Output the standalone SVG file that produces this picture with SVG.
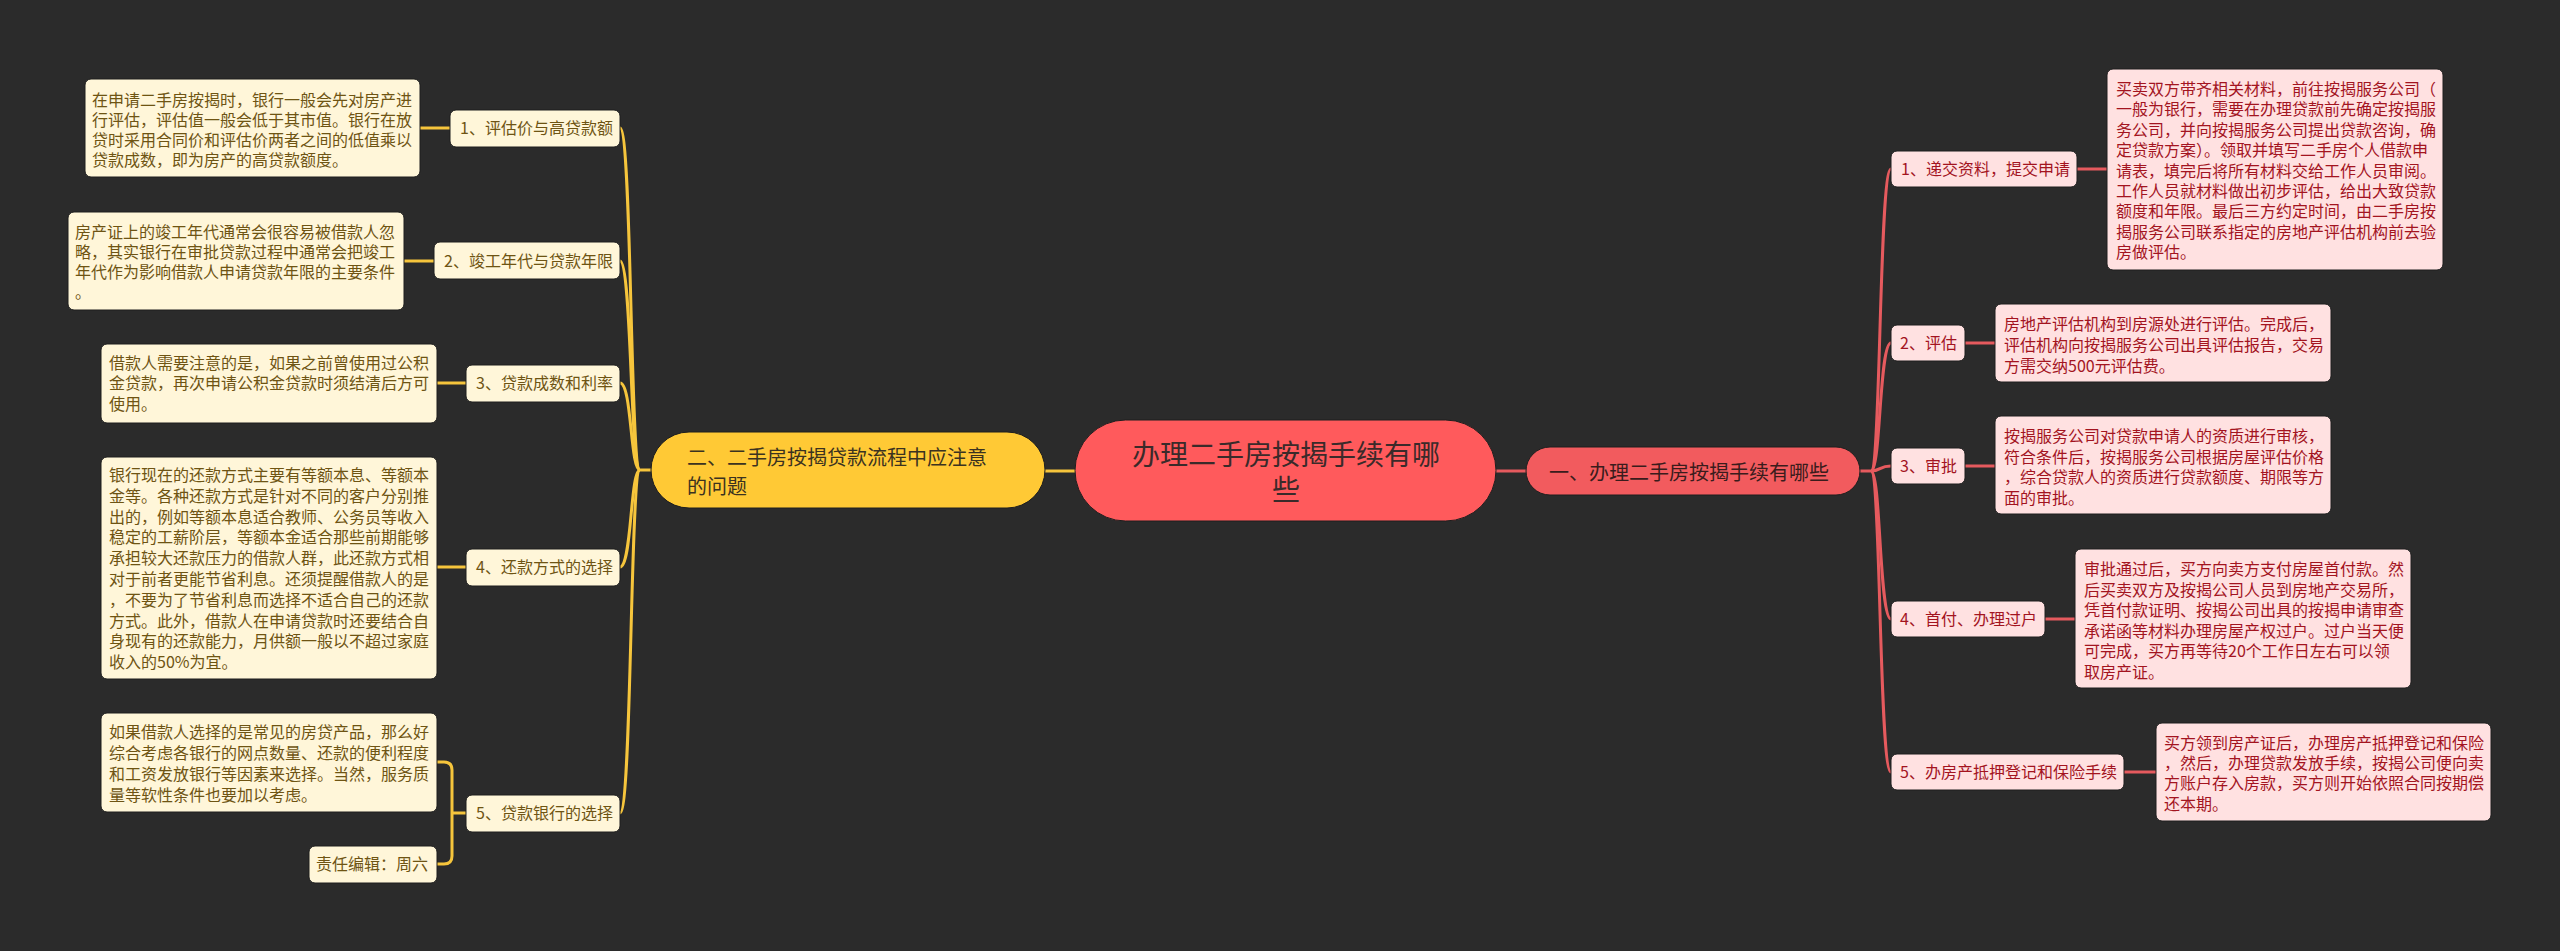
<svg xmlns="http://www.w3.org/2000/svg" width="2560" height="951" viewBox="0 0 2560 951">
<style>
text{font-family:"Noto Sans CJK SC","Noto Sans",sans-serif}
.bg{fill:#2b2b2b}
.ly{fill:#fff6d9;stroke:#1e1e1e;stroke-width:1}
.lt{fill:#6e5413;font-size:16px}
.ry{fill:#ffe1e1;stroke:#1e1e1e;stroke-width:1}
.rt{fill:#a3141f;font-size:16px}
.cy{fill:none;stroke:#f6c53c;stroke-width:3}
.cr{fill:none;stroke:#e65a5e;stroke-width:3}
</style>
<rect class="bg" x="0" y="0" width="2560" height="951"/>

<g id="connectors">
<path class="cy" d="M1075 471H1045"/>
<path class="cr" d="M1496 471H1526"/>
<path class="cy" d="M651 470H640"/>
<path class="cy" d="M640 470C630 470 632 128 620 128"/>
<path class="cy" d="M640 470C630 470 632 261 620 261"/>
<path class="cy" d="M640 470C630 470 632 383 620 383"/>
<path class="cy" d="M640 470C630 470 632 567 620 567"/>
<path class="cy" d="M640 470C630 470 632 813 620 813"/>
<path class="cy" d="M450 128H420"/>
<path class="cy" d="M434 261H404"/>
<path class="cy" d="M466 383H437"/>
<path class="cy" d="M466 567H437"/>
<path class="cy" d="M466 813H452M452 813V770Q452 762 444 762H437M452 813V856Q452 864 444 864H437"/>
<path class="cr" d="M1860 471H1871"/>
<path class="cr" d="M1871 471C1881 471 1879 169 1891 169"/>
<path class="cr" d="M1871 471C1881 471 1879 343 1891 343"/>
<path class="cr" d="M1871 471C1881 471 1879 466 1891 466"/>
<path class="cr" d="M1871 471C1881 471 1879 619 1891 619"/>
<path class="cr" d="M1871 471C1881 471 1879 772 1891 772"/>
<path class="cr" d="M2077 169H2107"/>
<path class="cr" d="M1965 343H1995"/>
<path class="cr" d="M1965 466H1995"/>
<path class="cr" d="M2045 619H2075"/>
<path class="cr" d="M2124 772H2156"/>
</g>

<g id="root">
<rect x="1075" y="420" width="421" height="101" rx="50.5" fill="#ff5a5c" stroke="#1e1e1e" stroke-width="1"/>
<text x="1286" y="465" font-size="28" fill="#3a2a2a" text-anchor="middle">办理二手房按揭手续有哪</text>
<text x="1286" y="500" font-size="28" fill="#3a2a2a" text-anchor="middle">些</text>
</g>

<g id="branch-left">
<rect x="651" y="432" width="394" height="76" rx="38" fill="#ffc935" stroke="#1e1e1e" stroke-width="1"/>
<text x="687" y="465" font-size="20" fill="#3b3220">二、二手房按揭贷款流程中应注意</text>
<text x="687" y="494" font-size="20" fill="#3b3220">的问题</text>
</g>

<g id="branch-right">
<rect x="1526" y="447" width="334" height="48" rx="24" fill="#f25b5e" stroke="#1e1e1e" stroke-width="1"/>
<text x="1549" y="480" font-size="20" fill="#3a1c1c">一、办理二手房按揭手续有哪些</text>
</g>

<g id="l1">
<rect class="ly" x="450" y="110" width="170" height="37" rx="6"/>
<text class="lt" x="460" y="134">1、评估价与高贷款额</text>
</g>
<g id="l1d">
<rect class="ly" x="85" y="79" width="335" height="98" rx="6"/>
<text class="lt" x="92" y="106">在申请二手房按揭时，银行一般会先对房产进</text>
<text class="lt" x="92" y="126">行评估，评估值一般会低于其市值。银行在放</text>
<text class="lt" x="92" y="146">贷时采用合同价和评估价两者之间的低值乘以</text>
<text class="lt" x="92" y="166">贷款成数，即为房产的高贷款额度。</text>
</g>

<g id="l2">
<rect class="ly" x="434" y="242" width="186" height="37" rx="6"/>
<text class="lt" x="444" y="267">2、竣工年代与贷款年限</text>
</g>
<g id="l2d">
<rect class="ly" x="68" y="212" width="336" height="98" rx="6"/>
<text class="lt" x="75" y="238">房产证上的竣工年代通常会很容易被借款人忽</text>
<text class="lt" x="75" y="258">略，其实银行在审批贷款过程中通常会把竣工</text>
<text class="lt" x="75" y="278">年代作为影响借款人申请贷款年限的主要条件</text>
<text class="lt" x="75" y="298">。</text>
</g>

<g id="l3">
<rect class="ly" x="466" y="365" width="154" height="37" rx="6"/>
<text class="lt" x="476" y="389">3、贷款成数和利率</text>
</g>
<g id="l3d">
<rect class="ly" x="101" y="344" width="336" height="79" rx="6"/>
<text class="lt" x="109" y="369">借款人需要注意的是，如果之前曾使用过公积</text>
<text class="lt" x="109" y="389">金贷款，再次申请公积金贷款时须结清后方可</text>
<text class="lt" x="109" y="410">使用。</text>
</g>

<g id="l4">
<rect class="ly" x="466" y="549" width="154" height="37" rx="6"/>
<text class="lt" x="476" y="573">4、还款方式的选择</text>
</g>
<g id="l4d">
<rect class="ly" x="101" y="457" width="336" height="222" rx="6"/>
<text class="lt" x="109" y="481">银行现在的还款方式主要有等额本息、等额本</text>
<text class="lt" x="109" y="502">金等。各种还款方式是针对不同的客户分别推</text>
<text class="lt" x="109" y="523">出的，例如等额本息适合教师、公务员等收入</text>
<text class="lt" x="109" y="543">稳定的工薪阶层，等额本金适合那些前期能够</text>
<text class="lt" x="109" y="564">承担较大还款压力的借款人群，此还款方式相</text>
<text class="lt" x="109" y="585">对于前者更能节省利息。还须提醒借款人的是</text>
<text class="lt" x="109" y="606">，不要为了节省利息而选择不适合自己的还款</text>
<text class="lt" x="109" y="627">方式。此外，借款人在申请贷款时还要结合自</text>
<text class="lt" x="109" y="647">身现有的还款能力，月供额一般以不超过家庭</text>
<text class="lt" x="109" y="668">收入的50%为宜。</text>
</g>

<g id="l5">
<rect class="ly" x="466" y="795" width="154" height="37" rx="6"/>
<text class="lt" x="476" y="819">5、贷款银行的选择</text>
</g>
<g id="l5d">
<rect class="ly" x="101" y="713" width="336" height="99" rx="6"/>
<text class="lt" x="109" y="738">如果借款人选择的是常见的房贷产品，那么好</text>
<text class="lt" x="109" y="759">综合考虑各银行的网点数量、还款的便利程度</text>
<text class="lt" x="109" y="780">和工资发放银行等因素来选择。当然，服务质</text>
<text class="lt" x="109" y="801">量等软性条件也要加以考虑。</text>
</g>
<g id="l5e">
<rect class="ly" x="309" y="846" width="128" height="37" rx="6"/>
<text class="lt" x="316" y="870">责任编辑：周六</text>
</g>

<g id="r1">
<rect class="ry" x="1891" y="151" width="186" height="36" rx="6"/>
<text class="rt" x="1901" y="175">1、递交资料，提交申请</text>
</g>
<g id="r1d">
<rect class="ry" x="2107" y="69" width="336" height="201" rx="6"/>
<text class="rt" x="2116" y="95">买卖双方带齐相关材料，前往按揭服务公司（</text>
<text class="rt" x="2116" y="115.4">一般为银行，需要在办理贷款前先确定按揭服</text>
<text class="rt" x="2116" y="135.8">务公司，并向按揭服务公司提出贷款咨询，确</text>
<text class="rt" x="2116" y="156.2">定贷款方案）。领取并填写二手房个人借款申</text>
<text class="rt" x="2116" y="176.6">请表，填完后将所有材料交给工作人员审阅。</text>
<text class="rt" x="2116" y="197">工作人员就材料做出初步评估，给出大致贷款</text>
<text class="rt" x="2116" y="217.4">额度和年限。最后三方约定时间，由二手房按</text>
<text class="rt" x="2116" y="237.8">揭服务公司联系指定的房地产评估机构前去验</text>
<text class="rt" x="2116" y="258.2">房做评估。</text>
</g>

<g id="r2">
<rect class="ry" x="1891" y="325" width="74" height="36" rx="6"/>
<text class="rt" x="1900" y="349">2、评估</text>
</g>
<g id="r2d">
<rect class="ry" x="1995" y="304" width="336" height="78" rx="6"/>
<text class="rt" x="2004" y="330">房地产评估机构到房源处进行评估。完成后，</text>
<text class="rt" x="2004" y="351">评估机构向按揭服务公司出具评估报告，交易</text>
<text class="rt" x="2004" y="372">方需交纳500元评估费。</text>
</g>

<g id="r3">
<rect class="ry" x="1891" y="448" width="74" height="36" rx="6"/>
<text class="rt" x="1900" y="472">3、审批</text>
</g>
<g id="r3d">
<rect class="ry" x="1995" y="416" width="336" height="98" rx="6"/>
<text class="rt" x="2004" y="442">按揭服务公司对贷款申请人的资质进行审核，</text>
<text class="rt" x="2004" y="463">符合条件后，按揭服务公司根据房屋评估价格</text>
<text class="rt" x="2004" y="483">，综合贷款人的资质进行贷款额度、期限等方</text>
<text class="rt" x="2004" y="504">面的审批。</text>
</g>

<g id="r4">
<rect class="ry" x="1891" y="601" width="154" height="36" rx="6"/>
<text class="rt" x="1900" y="625">4、首付、办理过户</text>
</g>
<g id="r4d">
<rect class="ry" x="2075" y="549" width="336" height="139" rx="6"/>
<text class="rt" x="2084" y="575">审批通过后，买方向卖方支付房屋首付款。然</text>
<text class="rt" x="2084" y="595.6">后买卖双方及按揭公司人员到房地产交易所，</text>
<text class="rt" x="2084" y="616.2">凭首付款证明、按揭公司出具的按揭申请审查</text>
<text class="rt" x="2084" y="636.8">承诺函等材料办理房屋产权过户。过户当天便</text>
<text class="rt" x="2084" y="657.4">可完成，买方再等待20个工作日左右可以领</text>
<text class="rt" x="2084" y="678">取房产证。</text>
</g>

<g id="r5">
<rect class="ry" x="1891" y="754" width="233" height="36" rx="6"/>
<text class="rt" x="1900" y="778">5、办房产抵押登记和保险手续</text>
</g>
<g id="r5d">
<rect class="ry" x="2156" y="723" width="335" height="98" rx="6"/>
<text class="rt" x="2164" y="749">买方领到房产证后，办理房产抵押登记和保险</text>
<text class="rt" x="2164" y="769">，然后，办理贷款发放手续，按揭公司便向卖</text>
<text class="rt" x="2164" y="789">方账户存入房款，买方则开始依照合同按期偿</text>
<text class="rt" x="2164" y="810">还本期。</text>
</g>
</svg>
